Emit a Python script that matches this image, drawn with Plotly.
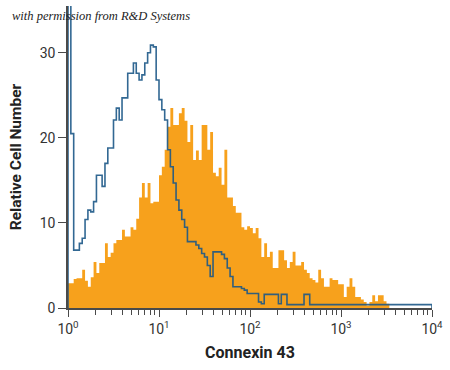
import numpy as np
import plotly.graph_objects as go

# Histogram channels: 32 bins per decade on a log10 scale starting at 10^0
bins_per_decade = 32

connexin43_counts = [
    2.9, 2.9, 3.4, 3.5, 3.5, 4.5, 3.2, 2.5, 3.6, 5.4,
    4.1, 5.3, 5.3, 7.6, 6.0, 6.5, 7.6, 8.0, 8.0, 9.2,
    8.4, 8.4, 9.5, 9.2, 10.5, 13.0, 14.7, 13.0, 14.7, 12.3,
    12.5, 12.5, 15.6, 16.6, 18.6, 21.3, 23.5, 21.5, 21.5, 22.9,
    23.5, 22.0, 19.5, 21.5, 17.4, 18.5, 17.4, 21.5, 21.5, 18.6,
    20.7, 15.9, 15.5, 16.5, 14.5, 18.6, 13.0, 13.0, 12.0, 11.2,
    11.2, 9.5, 9.2, 9.6, 9.4, 8.8, 9.4, 8.2, 6.0, 7.6,
    6.0, 6.6, 4.7, 4.7, 6.8, 6.8, 5.6, 4.7, 5.4, 6.6,
    5.0, 5.0, 5.4, 4.5, 4.1, 3.5, 3.3, 3.0, 4.5, 3.5,
    2.5, 2.5, 3.5, 3.3, 3.3, 2.8, 2.8, 1.3, 2.5, 3.5,
    2.5, 1.3, 1.3, 1.0, 0.7, 0.3, 0.7, 1.5, 0.8, 1.5,
    1.5, 0.8, 0.5,
]

isotype_counts = [
    36.0, 20.5, 6.8, 6.8, 7.6, 8.2, 10.4, 11.5, 11.3, 12.5,
    15.6, 15.6, 14.3, 17.0, 18.8, 18.8, 22.1, 23.5, 22.1, 24.7,
    24.7, 27.6, 27.6, 28.8, 27.6, 26.8, 27.4, 28.8, 30.0, 30.9,
    30.7, 26.8, 24.5, 23.3, 22.1, 18.6, 16.6, 14.7, 12.7, 11.5,
    10.4, 9.5, 7.8, 7.8, 7.8, 7.4, 7.0, 6.4, 6.0, 5.0,
    3.7, 6.6, 6.6, 6.6, 6.3, 5.8, 4.7, 3.7, 2.5, 2.5,
    2.5, 2.3, 2.1, 1.7, 1.7, 1.7, 1.7, 0.7, 0.5, 1.6,
    1.6, 1.6, 1.6, 1.6, 0.5, 1.6, 1.6, 0.4, 0.4, 0.4,
    0.4, 0.4, 0.4, 1.6, 1.6, 0.4, 0.4, 0.4, 0.4, 0.4,
    0.4, 0.4, 0.4, 0.4, 0.4, 0.4, 0.4, 0.4, 0.4, 0.4,
    0.4, 0.4, 0.4, 0.4, 0.4, 0.4, 0.4, 0.4, 0.4, 0.4,
    0.4, 0.4, 0.4, 0.4, 0.4, 0.4, 0.4, 0.4, 0.4, 0.4,
    0.4, 0.4, 0.4, 0.4, 0.4, 0.4, 0.4, 0.4,
]

x_tickvals = [1, 10, 100, 1000, 10000]
x_ticktext = ["10<sup>0</sup>", "10<sup>1</sup>", "10<sup>2</sup>", "10<sup>3</sup>", "10<sup>4</sup>"]
y_tickvals = [0, 10, 20, 30]
x_title = "Connexin 43"
y_title = "Relative Cell Number"
credit = "with permission from R&D Systems"

ORANGE = "#f7a11c"
BLUE = "rgba(28,88,135,0.9)"
AXIS = "#4a4a4a"
FONT = "Roboto, Liberation Sans, sans-serif"


def step_xy(counts):
    n = len(counts)
    edges = 10 ** (np.arange(n + 1) / bins_per_decade)
    xs = [edges[0]] + list(edges[:n]) + [edges[n], edges[n]]
    ys = [0] + list(counts) + [counts[-1], 0]
    return xs, ys


ox, oy = step_xy(connexin43_counts)
bx, by = step_xy(isotype_counts)

fig = go.Figure()
fig.add_trace(go.Scatter(x=ox, y=oy, mode="lines", line=dict(shape="hv", width=0, color=ORANGE),
                         fill="tozeroy", fillcolor=ORANGE, hoverinfo="skip", showlegend=False))
fig.add_trace(go.Scatter(x=bx, y=by, mode="lines", line=dict(shape="hv", width=1.6, color=BLUE),
                         hoverinfo="skip", showlegend=False))

minor_vals = [m * 10 ** k for k in range(4) for m in range(2, 10)]

fig.update_layout(
    width=450, height=370,
    margin=dict(l=68, r=18, t=6, b=62),
    paper_bgcolor="white", plot_bgcolor="white",
    font=dict(family=FONT, color="#333333", size=14),
    xaxis=dict(
        type="log", range=[0, 4],
        tickvals=x_tickvals, ticktext=x_ticktext,
        ticks="outside", ticklen=7, tickwidth=1.2, tickcolor=AXIS,
        minor=dict(tickvals=minor_vals, ticks="outside", ticklen=5, tickwidth=1, tickcolor=AXIS, showgrid=False),
        showline=True, linecolor=AXIS, linewidth=1.5,
        showgrid=False, zeroline=False,
        tickfont=dict(size=14),
        title=dict(text="<b>" + x_title + "</b>", font=dict(size=16, color="#222222"), standoff=11),
    ),
    yaxis=dict(
        range=[0, 35.5],
        tickvals=y_tickvals,
        ticks="outside", ticklen=8, tickwidth=1.2, tickcolor=AXIS,
        showline=True, linecolor=AXIS, linewidth=1.5,
        showgrid=False, zeroline=False,
        tickfont=dict(size=14),
        title=dict(text="<b>" + y_title + "</b>", font=dict(size=15.5, color="#222222"), standoff=14),
    ),
    annotations=[dict(
        text="<i>" + credit + "</i>", xref="paper", yref="paper",
        x=-0.16, y=0.967, xanchor="left", yanchor="middle", showarrow=False,
        font=dict(family="Liberation Serif, DejaVu Serif, serif", size=12.5, color="#222222"),
    )],
)

fig.write_html("out.html", config={"displayModeBar": False},
               post_script="document.body.style.margin='0';document.body.style.padding='0';")
